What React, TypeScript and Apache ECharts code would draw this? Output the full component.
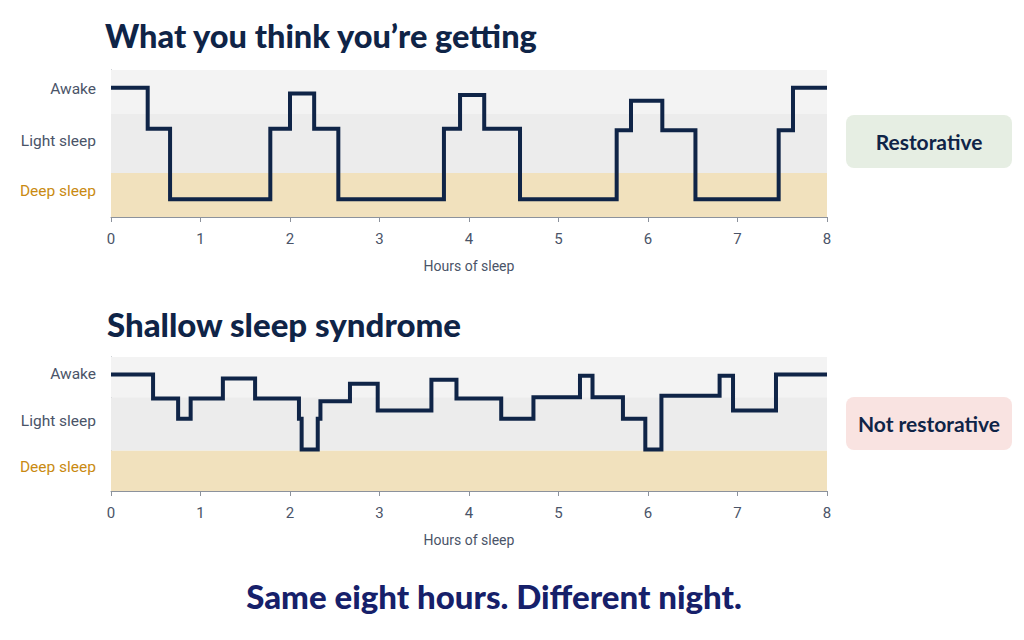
import React, { useEffect, useRef } from "react";
import * as echarts from "echarts";

const hourTicks = [0, 1, 2, 3, 4, 5, 6, 7, 8];
const stageLabels = ["Deep sleep", "Light sleep", "Awake"];
const stageLabelValues = [18, 52, 87];
// band limits on the 0-100 depth scale
const deepBand = [0, 30];
const lightBand = [30, 70];
const awakeBand = [70, 100];

// [hour, level] - each level holds until the next hour listed
const idealNight = [
  [0, 88], [0.41, 60], [0.66, 12], [1.78, 60], [2.0, 84], [2.27, 60],
  [2.54, 12], [3.72, 60], [3.9, 83], [4.17, 60], [4.57, 12], [5.65, 59],
  [5.81, 79], [6.16, 59], [6.53, 12], [7.46, 59], [7.62, 88], [8, 88],
];

const shallowNight = [
  [0, 87], [0.47, 69], [0.75, 54], [0.89, 69], [1.25, 84], [1.61, 69],
  [2.1, 54], [2.13, 31], [2.31, 54], [2.34, 67], [2.67, 80], [2.98, 60],
  [3.58, 83], [3.86, 69], [4.36, 54], [4.72, 70], [5.24, 86], [5.38, 70],
  [5.72, 54], [5.97, 31], [6.15, 71], [6.8, 86], [6.95, 60], [7.43, 87],
  [8, 87],
];

const titles = ["What you think you’re getting", "Shallow sleep syndrome"];
const badges = ["Restorative", "Not restorative"];
const footer = "Same eight hours. Different night.";

const NAVY = "#0f2447";
const GRAY = "#4a5468";
const FONT = "Roboto, 'Noto Sans', sans-serif";
const HEAVY = "Lato, 'Noto Sans', sans-serif";

export default function App() {
  const ref = useRef<HTMLDivElement>(null);

  useEffect(() => {
    if (!ref.current) return;
    const chart = echarts.init(ref.current, undefined, { renderer: "svg" });

    const grids = [
      { left: 111, right: 197, top: 70, height: 147 },
      { left: 111, right: 197, top: 357, height: 134 },
    ];

    const xAxes = grids.map((_, i) => ({
      type: "value",
      gridIndex: i,
      min: 0,
      max: 8,
      interval: 1,
      name: "Hours of sleep",
      nameLocation: "middle",
      nameGap: 42,
      nameTextStyle: { color: GRAY, fontSize: 14, fontFamily: FONT },
      axisLine: { show: true, lineStyle: { color: "#8c929c", width: 1 } },
      axisTick: { show: true, length: 5, lineStyle: { color: "#8c929c" } },
      axisLabel: {
        color: GRAY,
        fontSize: 15,
        fontFamily: FONT,
        margin: 14,
        formatter: (v: number) => (hourTicks.includes(v) ? String(v) : ""),
      },
      splitLine: { show: false },
    }));

    const yAxes = grids.map((_, i) => ({
      type: "value",
      gridIndex: i,
      min: 0,
      max: 100,
      axisLine: { show: true, lineStyle: { color: "#8c929c", width: 1 } },
      axisTick: { show: false },
      splitLine: { show: false },
      axisLabel: {
        customValues: stageLabelValues,
        fontSize: 15.5,
        fontFamily: FONT,
        margin: 15,
        color: GRAY,
        formatter: (v: number) => {
          const idx = stageLabelValues.indexOf(v);
          const t = stageLabels[idx] ?? "";
          return idx === 0 ? `{deep|${t}}` : `{std|${t}}`;
        },
        rich: {
          deep: { color: "#c98a12", fontSize: 15.5, fontFamily: FONT },
          std: { color: GRAY, fontSize: 15.5, fontFamily: FONT },
        },
      },
    }));

    const bands = {
      silent: true,
      data: [
        [{ yAxis: awakeBand[0], itemStyle: { color: "#f3f3f3" } }, { yAxis: awakeBand[1] }],
        [{ yAxis: lightBand[0], itemStyle: { color: "#ececec" } }, { yAxis: lightBand[1] }],
        [{ yAxis: deepBand[0], itemStyle: { color: "#f1e1bd" } }, { yAxis: deepBand[1] }],
      ],
    };

    const series = [idealNight, shallowNight].map((d, i) => ({
      type: "line",
      xAxisIndex: i,
      yAxisIndex: i,
      step: "end",
      data: d,
      symbol: "none",
      lineStyle: { color: NAVY, width: 4, join: "miter" },
      markArea: bands,
      z: 3,
    }));

    chart.setOption({
      animation: false,
      backgroundColor: "#ffffff",
      grid: grids,
      xAxis: xAxes,
      yAxis: yAxes,
      series,
      graphic: [
        {
          type: "text",
          x: 105,
          y: 35,
          style: {
            text: titles[0],
            fill: NAVY,
            font: `900 32.5px ${HEAVY}`,
            verticalAlign: "middle",
          },
        },
        {
          type: "text",
          x: 107,
          y: 324,
          style: {
            text: titles[1],
            fill: NAVY,
            font: `900 33px ${HEAVY}`,
            verticalAlign: "middle",
          },
        },
        {
          type: "rect",
          shape: { x: 846, y: 115, width: 166, height: 53, r: 8 },
          style: { fill: "#e6eee3" },
        },
        {
          type: "text",
          x: 929,
          y: 141.5,
          style: {
            text: badges[0],
            fill: NAVY,
            font: `bold 21px ${HEAVY}`,
            align: "center",
            verticalAlign: "middle",
          },
        },
        {
          type: "rect",
          shape: { x: 846, y: 397, width: 166, height: 53, r: 8 },
          style: { fill: "#f9e3e1" },
        },
        {
          type: "text",
          x: 929,
          y: 423.5,
          style: {
            text: badges[1],
            fill: NAVY,
            font: `bold 21px ${HEAVY}`,
            align: "center",
            verticalAlign: "middle",
          },
        },
        {
          type: "text",
          x: 494,
          y: 596,
          style: {
            text: footer,
            fill: "#16206a",
            font: `900 33px ${HEAVY}`,
            align: "center",
            verticalAlign: "middle",
          },
        },
      ],
    });

    return () => chart.dispose();
  }, []);

  return (
    <div
      ref={ref}
      style={{ position: "fixed", left: 0, top: 0, width: 1024, height: 640 }}
    />
  );
}
